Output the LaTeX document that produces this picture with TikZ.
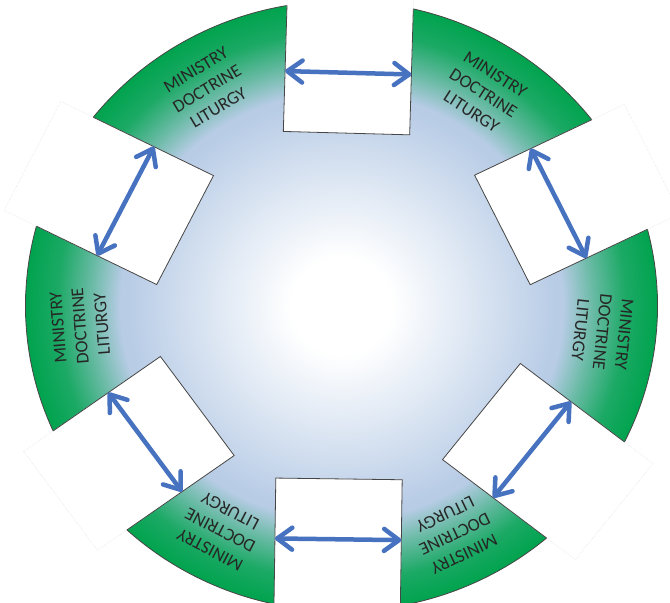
\documentclass[tikz,border=0pt]{standalone}
\usepackage{fontspec}
\setmainfont{Carlito}
\usetikzlibrary{calc,arrows.meta}
\definecolor{rimgreen}{RGB}{0,163,78}
\definecolor{wheelblue}{RGB}{184,204,230}
\definecolor{arrowblue}{RGB}{70,114,192}
\definecolor{rimline}{RGB}{70,70,70}
\pgfdeclareradialshading{wheelshade}{\pgfpointorigin}{color(0bp)=(white); color(4bp)=(white); color(17bp)=(wheelblue); color(17.5bp)=(wheelblue); color(20bp)=(rimgreen!45!wheelblue); color(22.5bp)=(rimgreen!85!wheelblue); color(25bp)=(rimgreen); color(50bp)=(rimgreen)}
\begin{document}
\begin{tikzpicture}[x=1pt, y=1pt,
  rimtext/.style={align=center, font=\fontsize{18}{22}\selectfont, text=black!85},
  boxline/.style={draw=rimline, line width=0.8pt},
  boxghost/.style={draw=black!12, densely dotted, line width=0.5pt},
  >={Straight Barb[length=15pt,width=22pt,line cap=round,line join=round]},
  twoway/.style={<->, draw=arrowblue, line width=4.5pt, line cap=round}]
  \useasboundingbox (0,0) rectangle (670,603);
  \clip (0,0) rectangle (670,603);
  \begin{scope}[shift={(341.5pt,297pt)}, x=316pt, y=305pt]
    \shade[shading=wheelshade] (0,0) circle (1);
    \draw[rimline, line width=0.8pt] (0,0) circle (1);
    \foreach \a/\d/\n in {88.4/0.567/top, 26.1/0.567/upright, -38/0.562/lowright, -90.8/0.567/bottom, -144.3/0.562/lowleft, 153.3/0.554/upleft} {
      \coordinate (\n-il) at ($(\a:\d)+(\a+90:0.2)$);
      \coordinate (\n-ir) at ($(\a:\d)+(\a-90:0.2)$);
      \coordinate (\n-ol) at ($(\a:1.095)+(\a+90:0.2)$);
      \coordinate (\n-or) at ($(\a:1.095)+(\a-90:0.2)$);
      \coordinate (\n-al) at ($(\a:0.765)+(\a+90:0.2)$);
      \coordinate (\n-ar) at ($(\a:0.765)+(\a-90:0.2)$);
      \fill[white] (\n-il) -- (\n-ol) -- (\n-or) -- (\n-ir) -- cycle;
      \draw[boxghost] (\n-il) -- (\n-ol) -- (\n-or) -- (\n-ir) -- cycle;
      \begin{scope}
        \clip (0,0) circle (1);
        \draw[boxline] (\n-il) -- (\n-ol) -- (\n-or) -- (\n-ir) -- cycle;
      \end{scope}
      \draw[twoway] (\n-al) -- (\n-ar);
    }
    \foreach \a/\n in {57.25/s1, -5.95/s2, -64.4/s3, -117.55/s4, 184.5/s5, 120.85/s6}
      \node[rimtext, rotate=\a-90] (\n) at (\a:0.83) {MINISTRY\\DOCTRINE\\LITURGY};
  \end{scope}
\end{tikzpicture}
\end{document}
